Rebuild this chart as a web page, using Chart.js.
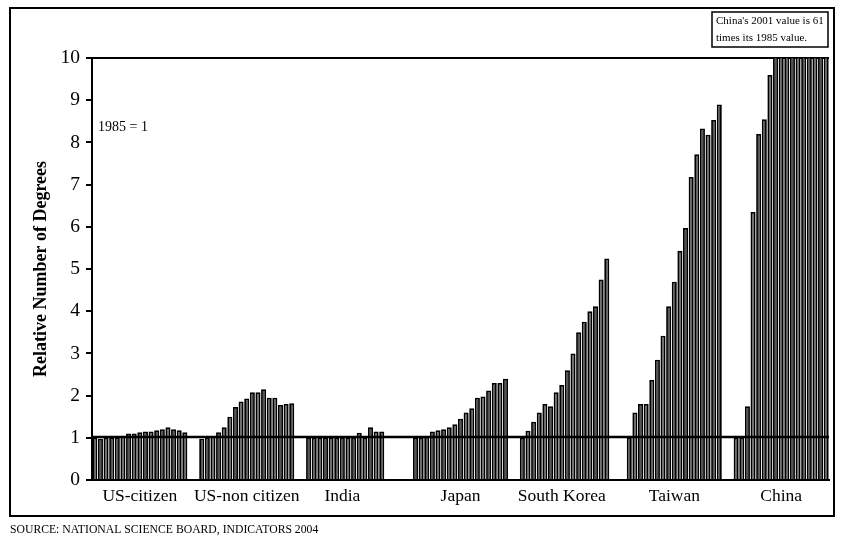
<!DOCTYPE html>
<html>
<head>
<meta charset="utf-8">
<title>Relative Number of Degrees</title>
<script src="https://cdn.jsdelivr.net/npm/chart.js@4.4.0/dist/chart.umd.min.js"></script>
<style>
  html, body { margin: 0; padding: 0; background: #fff; }
  #wrap { width: 841px; height: 544px; }
</style>
</head>
<body>
<div id="wrap"><canvas id="degreesChart" width="841" height="544"></canvas></div>
<script>
// Degrees relative to 1985 (1985 = 1), one bar per year 1985-2001
const countries = ['US-citizen', 'US-non citizen', 'India', 'Japan', 'South Korea', 'Taiwan', 'China'];
const years = [1985, 1986, 1987, 1988, 1989, 1990, 1991, 1992, 1993, 1994, 1995, 1996, 1997, 1998, 1999, 2000, 2001];

const usCitizen    = [1.00, 0.98, 1.00, 1.00, 1.01, 1.03, 1.10, 1.10, 1.13, 1.15, 1.15, 1.18, 1.20, 1.25, 1.20, 1.18, 1.13];
const usNonCitizen = [0.98, 1.00, 1.04, 1.13, 1.25, 1.50, 1.73, 1.86, 1.93, 2.08, 2.08, 2.15, 1.95, 1.95, 1.78, 1.80, 1.82];
const india        = [1.00, 1.00, 1.00, 1.00, 1.00, 1.00, 1.00, 1.00, 1.00, 1.12, 1.00, 1.25, 1.15, 1.15, null, null, null];
const japan        = [1.00, 1.00, 1.02, 1.15, 1.18, 1.20, 1.25, 1.32, 1.45, 1.60, 1.70, 1.95, 1.98, 2.12, 2.30, 2.30, 2.40];
const southKorea   = [1.00, 1.17, 1.38, 1.60, 1.80, 1.75, 2.08, 2.25, 2.60, 3.00, 3.50, 3.75, 4.00, 4.12, 4.75, 5.25, null];
const taiwan       = [1.00, 1.60, 1.80, 1.80, 2.37, 2.85, 3.42, 4.12, 4.70, 5.43, 5.97, 7.18, 7.72, 8.33, 8.18, 8.53, 8.90];
const china        = [1.00, 1.00, 1.75, 6.35, 8.20, 8.55, 9.60, 13.0, 17.0, 22.0, 27.0, 33.0, 39.0, 45.0, 51.0, 56.0, 61.0];

const yTicks = [0, 1, 2, 3, 4, 5, 6, 7, 8, 9, 10];

const series = [usCitizen, usNonCitizen, india, japan, southKorea, taiwan, china];
const GAP = 2; // empty slots between country groups

// one category slot per bar, country name under the middle of its bars
const slotLabels = [];
const slotValues = [];
series.forEach((vals, g) => {
  const start = slotLabels.length;
  vals.forEach(v => { slotLabels.push(''); slotValues.push(v); });
  const n = vals.filter(v => v !== null).length;
  slotLabels[start + Math.floor((n - 1) / 2)] = countries[g];
  if (g < series.length - 1) {
    for (let i = 0; i < GAP; i++) { slotLabels.push(''); slotValues.push(null); }
  }
});

const serif = "'Liberation Serif', 'Times New Roman', serif";

// reference line at 1 over the bars, frame and notes
const decor = {
  id: 'decor',
  afterDatasetsDraw(chart) {
    const {ctx, chartArea, scales: {y}} = chart;
    const py = Math.round(y.getPixelForValue(1)) - 1;
    ctx.save();
    ctx.strokeStyle = '#000';
    ctx.lineWidth = 2.5;
    ctx.beginPath();
    ctx.moveTo(chartArea.left, py);
    ctx.lineTo(chartArea.right, py);
    ctx.stroke();
    ctx.restore();
  },
  afterDraw(chart) {
    const ctx = chart.ctx;
    ctx.save();
    ctx.strokeStyle = '#000';
    ctx.lineWidth = 2;
    ctx.strokeRect(10, 8, 824, 508);

    ctx.fillStyle = '#000';
    ctx.textBaseline = 'middle';
    ctx.textAlign = 'left';
    ctx.font = '14px ' + serif;
    ctx.fillText('1985 = 1', 98, 127);

    ctx.lineWidth = 1.5;
    ctx.strokeRect(712, 12, 116, 35);
    ctx.font = '11px ' + serif;
    ctx.fillText("China's 2001 value is 61", 716, 21);
    ctx.fillText('times its 1985 value.', 716, 38);

    ctx.font = '11.7px ' + serif;
    ctx.fillText('SOURCE: NATIONAL SCIENCE BOARD, INDICATORS 2004', 10, 530);
    ctx.restore();
  }
};

new Chart(document.getElementById('degreesChart'), {
  type: 'bar',
  data: {
    labels: slotLabels,
    datasets: [{
      label: 'Relative Number of Degrees',
      data: slotValues,
      backgroundColor: '#555555',
      borderColor: '#000',
      borderWidth: 1.8,
      barPercentage: 0.9,
      categoryPercentage: 1.0
    }]
  },
  options: {
    responsive: false,
    devicePixelRatio: 1,
    animation: false,
    layout: { padding: { left: 10, right: 12, top: 58, bottom: 0 } },
    plugins: { legend: { display: false }, tooltip: { enabled: false } },
    scales: {
      x: {
        grid: { display: false, drawTicks: false },
        border: { display: true, color: '#000', width: 2 },
        ticks: {
          autoSkip: false, maxRotation: 0, minRotation: 0, padding: 6,
          color: '#000', font: { family: serif, size: 17.5 }
        },
        afterFit(scale) { scale.height = 64; }
      },
      y: {
        min: 0, max: 10,
        afterBuildTicks(scale) { scale.ticks = yTicks.map(v => ({ value: v })); },
        grid: {
          color: c => (c.tick && c.tick.value === 10) ? '#000' : 'rgba(0,0,0,0)',
          lineWidth: 2,
          tickColor: '#000',
          tickLength: 6,
          tickWidth: 2
        },
        border: { display: true, color: '#000', width: 2 },
        ticks: { color: '#000', padding: 6, font: { family: serif, size: 19.5 } },
        title: {
          display: true,
          text: 'Relative Number of Degrees',
          color: '#000',
          font: { family: serif, size: 18, weight: 'bold' },
          padding: { top: 21, bottom: 0 }
        },
        afterFit(scale) { scale.width = 82; }
      }
    }
  },
  plugins: [decor]
});
</script>
</body>
</html>
